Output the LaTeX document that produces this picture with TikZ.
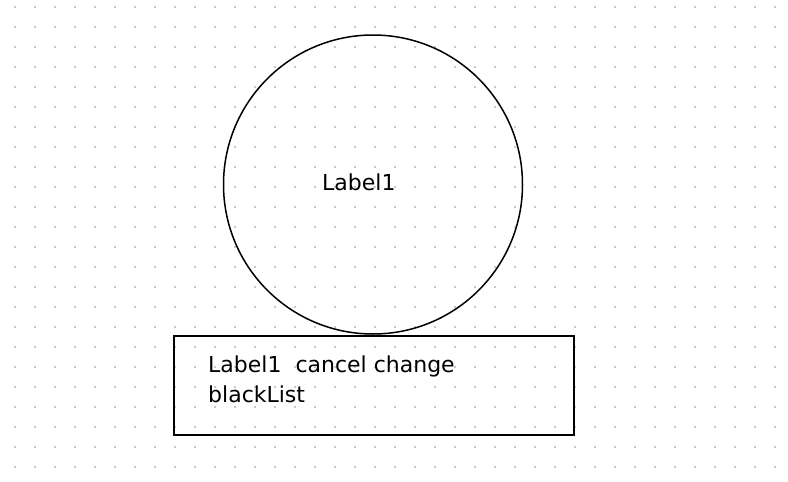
\documentclass[tikz,border=0pt]{standalone}
\usepackage{fontspec}
\setmainfont{DejaVu Sans}
\tikzset{
  griddot/.style={fill=black!22, draw=none},
  shapeline/.style={draw=black, line width=1.5pt},
  lbl/.style={anchor=base west, inner sep=0pt, font=\fontsize{22}{26}\selectfont}
}
\begin{document}
\begin{tikzpicture}[x=1pt,y=-1pt]
\useasboundingbox (0,0) rectangle (788,482);
\fill[white] (0,0) rectangle (788,482);
\foreach \i in {0,...,38} {
  \foreach \j in {0,...,23} {
    \fill[griddot] ({15+20*\i-1},{7+20*\j-1}) rectangle ++(2,2);
  }
}
\node[shapeline, circle, minimum size=299pt, inner sep=0pt] (circ) at (373,184.5) {};
\node[shapeline, rectangle, minimum width=400pt, minimum height=99pt, inner sep=0pt] (box) at (374,385.5) {};
\node[lbl] (clabel) at (322,190) {Label1};
\node[lbl] (blabel) at (208,372) {Label1\ \ cancel change};
\node[lbl] (blabel2) at (208,402) {blackList};
\end{tikzpicture}
\end{document}
